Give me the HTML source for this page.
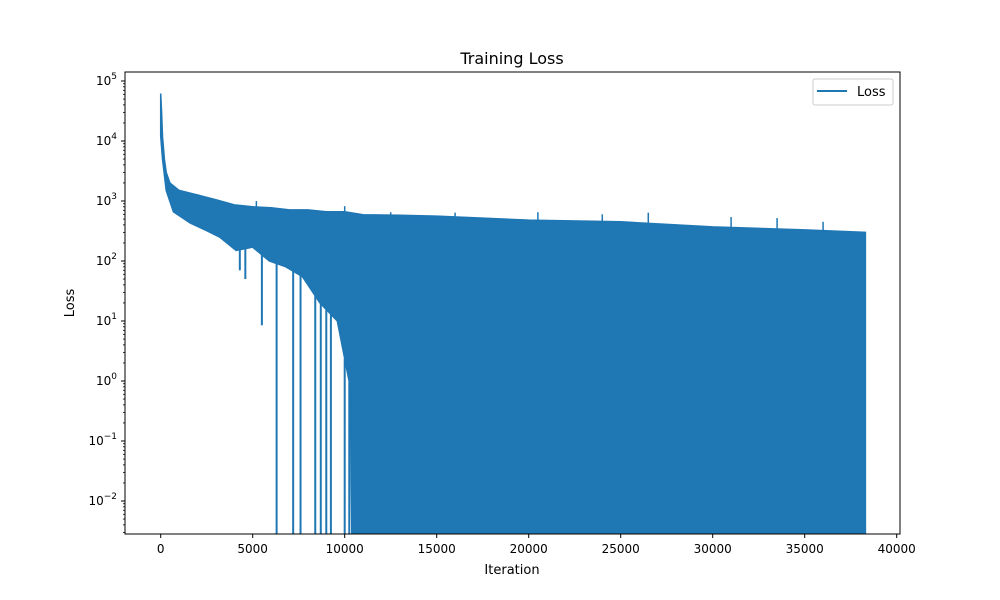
<!DOCTYPE html>
<html><head><meta charset="utf-8"><style>
body{margin:0;background:#fff;}
svg{display:block;font-family:"DejaVu Sans","Liberation Sans",sans-serif;}
</style></head><body>
<svg id="chart" width="1000" height="600">
<rect width="1000" height="600" fill="#fff"/>
<defs><clipPath id="plotclip"><rect x="125" y="72" width="775" height="462"/></clipPath></defs>
<g id="plot" clip-path="url(#plotclip)"></g>
<rect x="125" y="72" width="775" height="462" fill="none" stroke="#000" stroke-width="1"/>
<g id="axes"></g>
<text x="512" y="64" text-anchor="middle" font-size="16">Training Loss</text>
<text x="512" y="574" text-anchor="middle" font-size="13">Iteration</text>
<text x="74" y="303" text-anchor="middle" font-size="13" transform="rotate(-90 74 303)">Loss</text>
<g>
<rect x="813" y="79" width="80" height="26" rx="2" fill="#fff" stroke="#ccc"/>
<line x1="817" y1="91" x2="847" y2="91" stroke="#1f77b4" stroke-width="2"/>
<text x="857" y="96" font-size="13">Loss</text>
</g>
</svg>
<script>
const xTicks=[0,5000,10000,15000,20000,25000,30000,35000,40000];
const yTickExps=[-2,-1,0,1,2,3,4,5];
const upperIter=[0,50,100,200,300,500,1000,2000,3000,4000,5000,6000,7000,8000,9000,10000,11000,13000,15000,20000,25000,30000,35000,38300];
const upperVal=[62000,30000,12000,5000,3000,2000,1500,1260,1050,860,800,770,710,710,660,660,590,580,560,480,450,370,330,300];
const lowerIter=[38300,10400,10300,9600,8650,7700,6800,5900,5000,4100,3200,2500,1600,690,300,100,0];
const lowerVal=[0.001,0.001,0.8,10,20,55,80,100,170,150,250,320,430,660,1500,5000,12000];
const dropIter=[4300,4600,5500,6300,7200,7600,8400,8700,9000,9250,10000,10250];
const dropVal=[70,50,8.5,0.001,0.001,0.001,0.001,0.001,0.001,0.001,0.001,0.001];
const peakIter=[2000,5200,10000,12500,16000,20500,24000,26500,31000,33500,36000];
const peakVal=[1300,1000,820,650,640,650,600,640,540,520,450];

const X0=125,X1=900,Y0=72,Y1=534;
const xmin=-1940,xmax=40180,lmin=-2.55,lmax=5.15;
const xs=v=>X0+(v-xmin)/(xmax-xmin)*(X1-X0);
const ys=v=>Y1-(Math.log10(Math.max(v,1e-4))-lmin)/(lmax-lmin)*(Y1-Y0);
const NS='http://www.w3.org/2000/svg';
const plot=document.getElementById('plot'),axes=document.getElementById('axes');
function mk(tag,attrs,parent){const e=document.createElementNS(NS,tag);for(const k in attrs)e.setAttribute(k,attrs[k]);parent.appendChild(e);return e;}
let pts=[];
upperIter.forEach((it,i)=>pts.push(xs(it).toFixed(1)+','+ys(upperVal[i]).toFixed(1)));
lowerIter.forEach((it,i)=>pts.push(xs(it).toFixed(1)+','+ys(lowerVal[i]).toFixed(1)));
const poly=mk('polygon',{points:pts.join(' '),fill:'#1f77b4',stroke:'#1f77b4','stroke-width':1.5},plot);


function interp(arrI,arrV,it){for(let i=0;i<arrI.length-1;i++){const a=arrI[i],b=arrI[i+1];if((it-a)*(it-b)<=0){const t=b===a?0:(it-a)/(b-a);return Math.pow(10,Math.log10(arrV[i])*(1-t)+Math.log10(arrV[i+1])*t);}}return arrV[arrV.length-1];}
dropIter.forEach((it,i)=>{
  const top=interp(lowerIter,lowerVal,it);
  const l=mk('line',{x1:xs(it),x2:xs(it),y1:ys(top),y2:ys(dropVal[i]),stroke:'#1f77b4','stroke-width':2},plot);
  
  
});
peakIter.forEach((it,i)=>{
  const base=interp(upperIter,upperVal,it);
  const l=mk('line',{x1:xs(it),x2:xs(it),y1:ys(base)+2,y2:ys(peakVal[i]),stroke:'#1f77b4','stroke-width':1.5},plot);
  
  
});
xTicks.forEach(v=>{
  const x=xs(v);
  const t=mk('line',{x1:x,x2:x,y1:Y1,y2:Y1+4,stroke:'#000'},axes);
  
  
  const s=mk('text',{x:x,y:Y1+19,'text-anchor':'middle','font-size':12},axes);
  s.textContent=v;
  
  
});
yTickExps.forEach(e=>{
  const y=ys(Math.pow(10,e));
  const t=mk('line',{x1:X0-4,x2:X0,y1:y,y2:y,stroke:'#000'},axes);
  
  
  const s=mk('text',{x:X0-8,y:y+4,'text-anchor':'end','font-size':12},axes);
  s.textContent='10';
  const sp=mk('tspan',{dy:-6,'font-size':9},s);
  sp.textContent=String(e).replace('-','\u2212');
  
  
  for(let m=2;m<10;m++){
    const ym=ys(m*Math.pow(10,e));
    if(ym<Y0||ym>Y1)continue;
    const mt=mk('line',{x1:X0-2,x2:X0,y1:ym,y2:ym,stroke:'#000','stroke-width':0.8},axes);
    
    
  }
});
for(let m=2;m<10;m++){const ym=ys(m*1e-3);if(ym<=Y1){const mt=mk('line',{x1:X0-2,x2:X0,y1:ym,y2:ym,stroke:'#000','stroke-width':0.8},axes);}}
</script>
</body></html>
